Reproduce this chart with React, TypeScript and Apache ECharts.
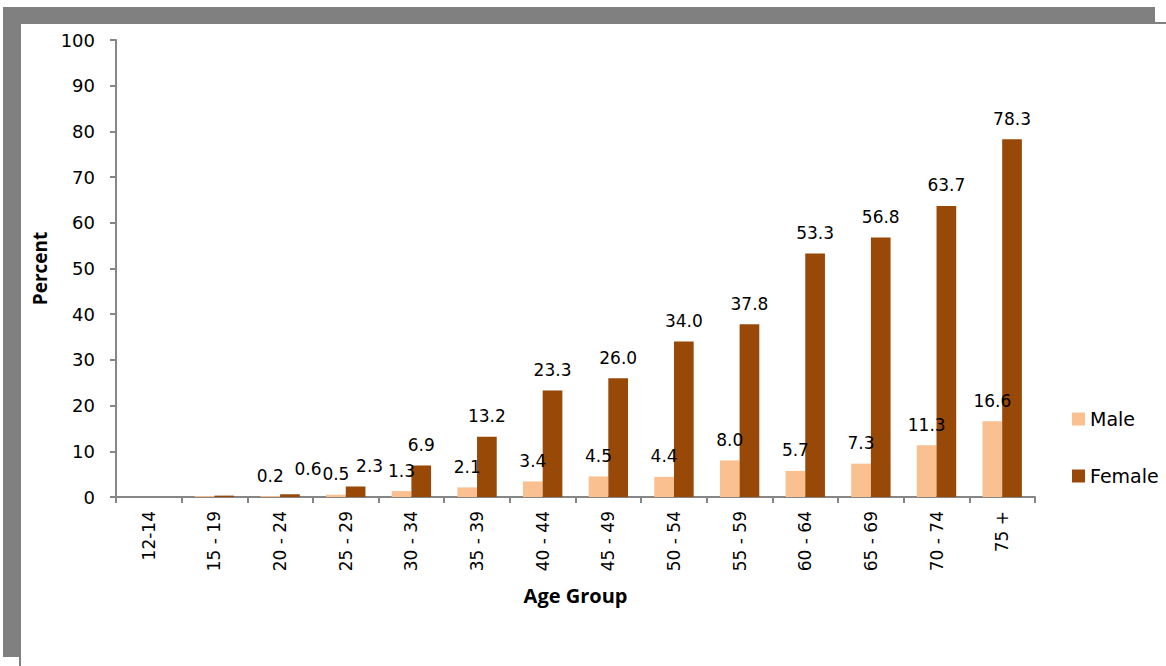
import React, { useEffect, useRef } from "react";
import * as echarts from "echarts";

const categories = ["12-14", "15 - 19", "20 - 24", "25 - 29", "30 - 34", "35 - 39", "40 - 44", "45 - 49", "50 - 54", "55 - 59", "60 - 64", "65 - 69", "70 - 74", "75 +"];
const maleValues = [0, 0.2, 0.2, 0.5, 1.3, 2.1, 3.4, 4.5, 4.4, 8.0, 5.7, 7.3, 11.3, 16.6];
const femaleValues = [0, 0.3, 0.6, 2.3, 6.9, 13.2, 23.3, 26.0, 34.0, 37.8, 53.3, 56.8, 63.7, 78.3];
const yTicks = { min: 0, max: 100, interval: 10 };

const MALE = "#FAC090";
const FEMALE = "#984807";
const AXIS = "#868686";
const FRAME = "#808080";
const NUM_FONT = "DejaVu Sans";
const NAME_FONT = "Open Sans";

export default function App() {
  const ref = useRef<HTMLDivElement>(null);
  useEffect(() => {
    if (!ref.current) return;
    const chart = echarts.init(ref.current, null, { renderer: "svg" });
    const hidden = new Set([0, 1]);
    const femaleOffsets: Record<number, number[]> = { 2: [18, -5], 3: [14, 0] };
    const mkData = (vals: number[], offsets: Record<number, number[]>) =>
      vals.map((v, i) => {
        if (hidden.has(i)) return { value: v, label: { show: false } };
        if (offsets[i]) return { value: v, label: { offset: offsets[i] } };
        return v;
      });
    const labelCfg = {
      show: true,
      position: "top" as const,
      distance: 12,
      formatter: (p: any) => Number(p.value).toFixed(1),
      fontFamily: NUM_FONT,
      fontSize: 17,
      color: "#000",
    };
    chart.setOption({
      animation: false,
      backgroundColor: "#fff",
      grid: { left: 116, right: 131, top: 40, bottom: 169, containLabel: false },
      legend: {
        orient: "vertical",
        left: 1072,
        top: 408,
        padding: 0,
        itemWidth: 13,
        itemHeight: 13,
        itemGap: 35,
        icon: "rect",
        textStyle: { fontFamily: NUM_FONT, fontSize: 19, color: "#000", lineHeight: 22 },
        data: ["Male", "Female"],
      },
      xAxis: {
        type: "category",
        data: categories,
        name: "Age Group",
        nameLocation: "middle",
        nameGap: 88,
        nameTextStyle: { fontFamily: NAME_FONT, fontWeight: "bold", fontSize: 20, color: "#000" },
        axisLine: { lineStyle: { color: AXIS, width: 2 } },
        axisTick: { show: true, length: 6, alignWithLabel: false, lineStyle: { color: AXIS, width: 2 } },
        axisLabel: { rotate: 90, margin: 14, fontFamily: NUM_FONT, fontSize: 17, color: "#000", interval: 0 },
        splitLine: { show: false },
      },
      yAxis: {
        type: "value",
        min: yTicks.min,
        max: yTicks.max,
        interval: yTicks.interval,
        name: "Percent",
        nameLocation: "middle",
        nameGap: 66,
        nameTextStyle: { fontFamily: NAME_FONT, fontWeight: "bold", fontSize: 19, color: "#000" },
        axisLine: { show: true, lineStyle: { color: AXIS, width: 2 } },
        axisTick: { show: true, length: 6, lineStyle: { color: AXIS, width: 2 } },
        axisLabel: { margin: 21, fontFamily: NUM_FONT, fontSize: 18, color: "#000" },
        splitLine: { show: false },
      },
      series: [
        {
          name: "Male",
          type: "bar",
          data: mkData(maleValues, {}),
          itemStyle: { color: MALE },
          barGap: "0%",
          barCategoryGap: "40%",
          label: labelCfg,
        },
        {
          name: "Female",
          type: "bar",
          data: mkData(femaleValues, femaleOffsets),
          itemStyle: { color: FEMALE },
          barGap: "0%",
          barCategoryGap: "40%",
          label: labelCfg,
        },
      ],
      graphic: [
        { type: "rect", shape: { x: 3, y: 7, width: 1152, height: 17 }, style: { fill: FRAME } },
        { type: "rect", shape: { x: 1155, y: 22, width: 11, height: 2 }, style: { fill: FRAME } },
        { type: "rect", shape: { x: 3, y: 7, width: 18, height: 650 }, style: { fill: FRAME } },
        { type: "rect", shape: { x: 19, y: 657, width: 2, height: 9 }, style: { fill: FRAME } },
      ],
    });
    return () => chart.dispose();
  }, []);
  return (
    <div
      ref={ref}
      style={{ position: "absolute", left: 0, top: 0, width: 1166, height: 666 }}
    />
  );
}
